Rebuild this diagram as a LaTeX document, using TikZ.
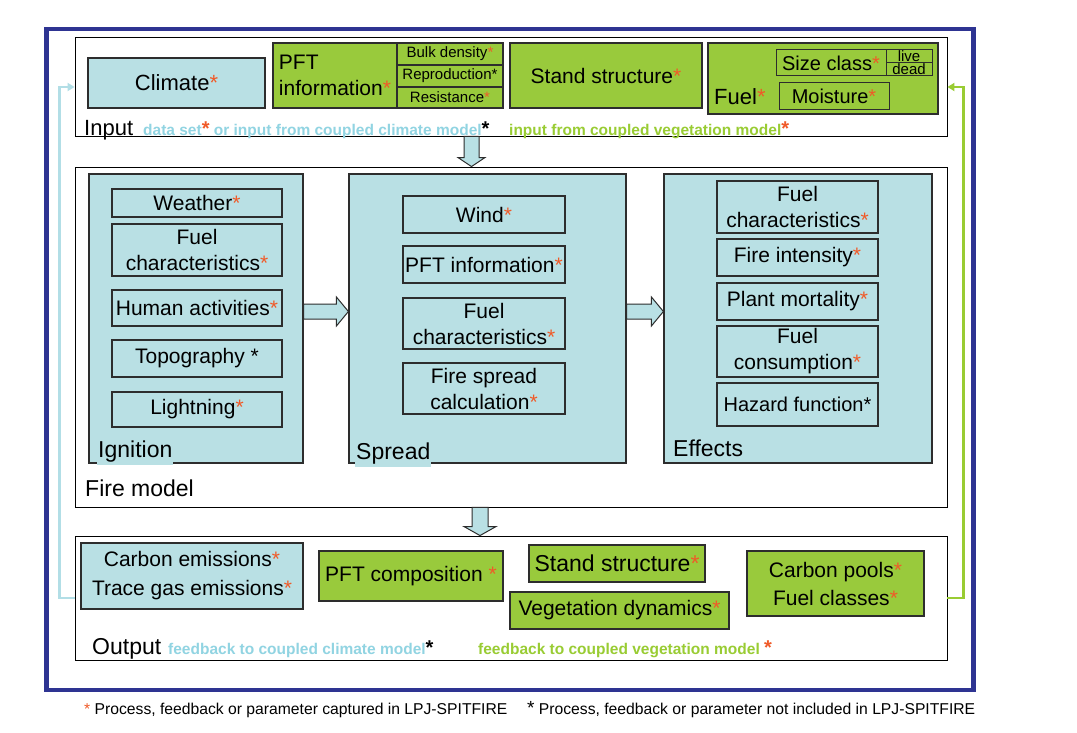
\documentclass[tikz,border=0pt]{standalone}
\usepackage{fontspec}
\setmainfont{Liberation Sans}
\usetikzlibrary{arrows.meta,calc}

\definecolor{iblue}{RGB}{185,224,228}
\definecolor{vgreen}{RGB}{153,202,60}
\definecolor{frameblue}{RGB}{46,52,146}
\definecolor{boxline}{RGB}{45,45,45}
\definecolor{rst}{RGB}{240,90,40}
\definecolor{tclim}{RGB}{145,212,226}
\definecolor{tveg}{RGB}{153,204,51}
\definecolor{fbclim}{RGB}{178,222,230}

\newcommand{\fsz}[2]{\fontsize{#1}{#2}\selectfont}
\newcommand{\rs}{\textcolor{rst}{*}}
\newcommand{\rsb}{{\fsz{20}{20}\textcolor{rst}{*}}}
\newcommand{\bsb}{{\fsz{20}{20}\textcolor{black}{*}}}

\tikzset{
  cont/.style={draw=black, line width=0.9pt, inner sep=0pt},
  panel/.style={draw=boxline, fill=iblue, line width=1.2pt, inner sep=0pt},
  cbox/.style={draw=boxline, fill=iblue, line width=1.2pt, inner sep=0pt, align=center, font=\fsz{21}{26}},
  vbox/.style={cbox, fill=vgreen},
  sbox/.style={vbox, font=\fsz{15}{15}},
  lab/.style={anchor=base west, inner sep=0pt, font=\fsz{23}{26}},
  plab/.style={lab, fill=iblue, inner xsep=1pt, inner ysep=3pt},
  annot/.style={anchor=base west, inner sep=0pt, font=\fsz{15.5}{17}\bfseries},
  blockar/.style={draw=boxline, fill=iblue, line width=1pt, line join=miter},
  fbline/.style={line width=2.2pt, -{Triangle[length=7pt,width=8pt]}}
}

\begin{document}
\begin{tikzpicture}[x=1pt, y=-1pt]
    \useasboundingbox[fill=white] (0,0) rectangle (1077,733);

    \draw[frameblue, line width=4.5pt] (46.5,29) rectangle (973.5,690);

    % input
    \node[cont, minimum width=872pt, minimum height=99pt] (inp) at (511,86.5) {};
    \node[cbox, minimum width=177pt, minimum height=50pt, font=\fsz{22}{26}] (clim) at (176.5,83) {Climate\rs};
    \node[vbox, minimum width=124pt, minimum height=65pt, align=left] (pft) at (335,75.5) {PFT\\information\rs};
    \node[sbox, minimum width=106pt, minimum height=22pt] (bulk) at (450,54) {Bulk density\rs};
    \node[sbox, minimum width=106pt, minimum height=22pt] (repro) at (450,76) {Reproduction*};
    \node[sbox, minimum width=106pt, minimum height=21pt] (resist) at (450,97.5) {Resistance\rs};
    \node[vbox, minimum width=192pt, minimum height=65pt] (stand) at (606,75.5) {Stand structure\rs};
    \node[vbox, minimum width=230pt, minimum height=71pt] (fuel) at (823,78.5) {};
    \node[vbox, line width=1pt, minimum width=110pt, minimum height=26pt, font=\fsz{20}{24}] (size) at (831,63) {Size class\rs};
    \node[vbox, line width=1pt, minimum width=46pt, minimum height=13pt, font=\fsz{15}{15}] (live) at (909,56.5) {live};
    \node[vbox, line width=1pt, minimum width=46pt, minimum height=13pt, font=\fsz{15}{15}] (dead) at (909,69.5) {dead};
    \node[vbox, line width=1pt, minimum width=110pt, minimum height=27pt, font=\fsz{20}{24}] (moist) at (834,96.5) {Moisture\rs};
    \node[lab, font=\fsz{22}{26}] (fuellab) at (714,105) {Fuel\rs};

    \node[lab, font=\fsz{22}{26}] (inlab) at (84,136) {Input};
    \node[annot, text=tclim] (inclim) at (143,136) {data set\rsb{} or input from coupled climate model\bsb};
    \node[annot, text=tveg] (inveg) at (509,136) {input from coupled vegetation model\rsb};

    % fire model
    \node[cont, minimum width=872pt, minimum height=340pt] (fire) at (511,337) {};
    \node[lab] (firelab) at (85,496) {Fire model};
    \node[panel, minimum width=214pt, minimum height=289pt] (ign) at (196,318.5) {};
    \node[panel, minimum width=277pt, minimum height=289pt] (spr) at (487.5,318.5) {};
    \node[panel, minimum width=268pt, minimum height=289pt] (eff) at (798,318.5) {};
    \node[plab] (ignlab) at (97,457) {Ignition};
    \node[plab] (sprlab) at (355,459) {Spread};
    \node[plab] (efflab) at (672,456) {Effects};

    \node[cbox, minimum width=170pt, minimum height=28pt] (weather) at (197,203) {Weather\rs};
    \node[cbox, minimum width=170pt, minimum height=52pt] (ifuel) at (197,250) {Fuel\\characteristics\rs};
    \node[cbox, minimum width=170pt, minimum height=36pt] (human) at (197,308) {Human activities\rs};
    \node[cbox, minimum width=170pt, minimum height=37pt] (topo) at (197,358.5) {Topography *};
    \node[cbox, minimum width=170pt, minimum height=35pt] (light) at (197,409.5) {Lightning\rs};

    \node[cbox, minimum width=162pt, minimum height=37pt] (wind) at (484,214.5) {Wind\rs};
    \node[cbox, minimum width=162pt, minimum height=37pt] (spft) at (484,264.5) {PFT information\rs};
    \node[cbox, minimum width=162pt, minimum height=51pt] (sfuel) at (484,323.5) {Fuel\\characteristics\rs};
    \node[cbox, minimum width=162pt, minimum height=51pt] (sprcalc) at (484,388.5) {Fire spread\\calculation\rs};

    \node[cbox, minimum width=161pt, minimum height=52pt] (efuel) at (797.5,207) {Fuel\\characteristics\rs};
    \node[cbox, minimum width=161pt, minimum height=37pt] (inten) at (797.5,257.5) {Fire intensity\rs};
    \node[cbox, minimum width=161pt, minimum height=37pt] (mort) at (797.5,301.5) {Plant mortality\rs};
    \node[cbox, minimum width=161pt, minimum height=51pt] (cons) at (797.5,351.5) {Fuel\\consumption\rs};
    \node[cbox, minimum width=161pt, minimum height=43pt, font=\fsz{20}{24}] (hazard) at (797.5,404.5) {Hazard function*};

    % output
    \node[cont, minimum width=872pt, minimum height=124pt] (out) at (511,598) {};
    \node[cbox, minimum width=222pt, minimum height=66pt, font=\fsz{21}{29}] (emis) at (192,576) {Carbon emissions\rs\\Trace gas emissions\rs};
    \node[vbox, minimum width=184pt, minimum height=50pt] (comp) at (411,576) {PFT composition \rs};
    \node[vbox, minimum width=176pt, minimum height=37pt, font=\fsz{23}{26}] (ostand) at (617,563.5) {Stand structure\rs};
    \node[vbox, minimum width=219pt, minimum height=37pt] (vegdyn) at (619.5,610.5) {Vegetation dynamics\rs};
    \node[vbox, minimum width=177pt, minimum height=65pt, font=\fsz{21}{28}] (pools) at (835.5,583.5) {Carbon pools\rs\\Fuel classes\rs};

    \node[lab] (outlab) at (92,654) {Output};
    \node[annot, text=tclim] (outclim) at (168,654) {feedback to coupled climate model\bsb};
    \node[annot, text=tveg] (outveg) at (478,654) {feedback to coupled vegetation model \rsb};

    % block arrows
    \draw[blockar] (inp.south -| 464,0) -- ($(fire.north -| 464,0)+(0,-9)$) -- ($(fire.north -| 458,0)+(0,-9)$)
        -- (fire.north -| 471.5,0) -- ($(fire.north -| 485,0)+(0,-9)$) -- ($(fire.north -| 479,0)+(0,-9)$)
        -- (inp.south -| 479,0) -- cycle;
    \draw[blockar] (fire.south -| 472,0) -- ($(out.north -| 472,0)+(0,-9)$) -- ($(out.north -| 464,0)+(0,-9)$)
        -- (out.north -| 480,0) -- ($(out.north -| 496,0)+(0,-9)$) -- ($(out.north -| 488,0)+(0,-9)$)
        -- (fire.south -| 488,0) -- cycle;
    \draw[blockar] (ign.east |- 0,304) -- ($(spr.west |- 0,304)+(-12,0)$) -- ($(spr.west |- 0,297)+(-12,0)$)
        -- (spr.west |- 0,311.5) -- ($(spr.west |- 0,326)+(-12,0)$) -- ($(spr.west |- 0,319)+(-12,0)$)
        -- (ign.east |- 0,319) -- cycle;
    \draw[blockar] (spr.east |- 0,304) -- ($(eff.west |- 0,304)+(-12,0)$) -- ($(eff.west |- 0,297)+(-12,0)$)
        -- (eff.west |- 0,311.5) -- ($(eff.west |- 0,326)+(-12,0)$) -- ($(eff.west |- 0,319)+(-12,0)$)
        -- (spr.east |- 0,319) -- cycle;

    % feedback
    \draw[fbline, fbclim] (out.west |- 0,598) -- ++(-15,0) |- (inp.west |- 0,87);
    \draw[fbline, tveg] (out.east |- 0,598) -- ++(16,0) |- (inp.east |- 0,87);

    % legend
    \node[anchor=base west, inner sep=0pt, font=\fsz{15.7}{18}] (legcap) at (84,714) {\rs\ Process, feedback or parameter captured in LPJ-SPITFIRE};
    \node[anchor=base west, inner sep=0pt, font=\fsz{15.7}{18}] (legnot) at (527,714) {{\fsz{19}{19}*} Process, feedback or parameter not included in LPJ-SPITFIRE};
\end{tikzpicture}
\end{document}
